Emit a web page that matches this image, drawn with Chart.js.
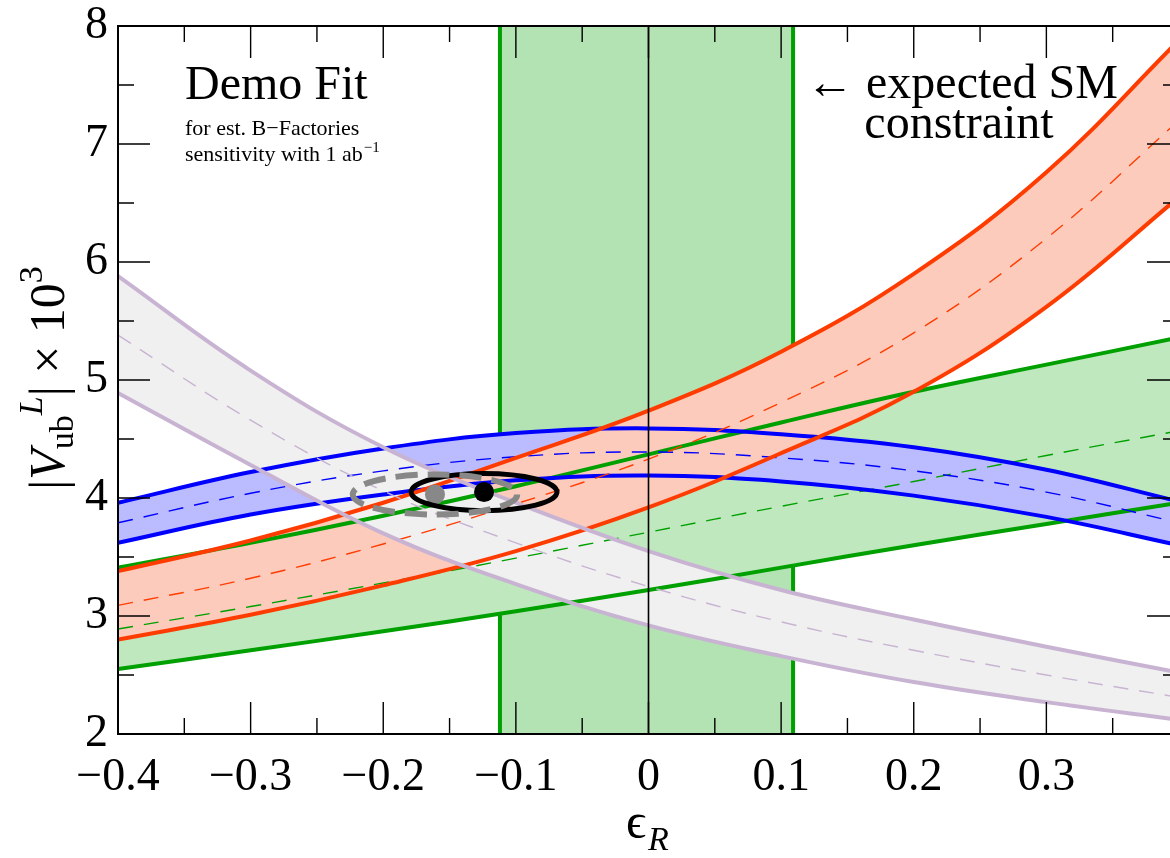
<!DOCTYPE html>
<html>
<head>
<meta charset="utf-8">
<script src="https://cdn.jsdelivr.net/npm/chart.js@4.4.0/dist/chart.umd.min.js"></script>
<style>
html, body { margin:0; padding:0; background:#fff; overflow:hidden; }
#wrap { width:1189px; height:858px; }
</style>
</head>
<body>
<div id="wrap"><canvas id="chart" width="1189" height="858"></canvas></div>
<script>
// epsilon_R grid
const eps = [-0.4, -0.3, -0.2, -0.1, 0, 0.1, 0.2, 0.3, 0.4];

// blue band
const blueUp  = [3.96, 4.22, 4.42, 4.55, 4.59, 4.54, 4.43, 4.24, 3.97];
const blueMid = [3.79, 4.04, 4.23, 4.35, 4.39, 4.34, 4.23, 4.05, 3.79];
const blueLo  = [3.62, 3.86, 4.03, 4.15, 4.19, 4.14, 4.02, 3.84, 3.60];
// red band
const redUp  = [3.38, 3.64, 3.96, 4.34, 4.74, 5.24, 5.90, 6.76, 7.88];
const redMid = [3.09, 3.32, 3.61, 3.95, 4.33, 4.81, 5.40, 6.20, 7.20];
const redLo  = [2.80, 3.01, 3.26, 3.55, 3.92, 4.38, 4.90, 5.62, 6.55];
// green (slanted) band
const greenUp  = [3.41, 3.62, 3.85, 4.10, 4.37, 4.64, 4.90, 5.13, 5.36];
const greenMid = [2.89, 3.08, 3.28, 3.49, 3.71, 3.93, 4.14, 4.36, 4.57];
const greenLo  = [2.55, 2.71, 2.87, 3.04, 3.22, 3.41, 3.60, 3.78, 3.96];
// grey band
const greyUp  = [5.88, 5.08, 4.43, 3.96, 3.55, 3.22, 2.97, 2.74, 2.52];
const greyMid = [5.38, 4.66, 4.06, 3.62, 3.25, 2.95, 2.71, 2.50, 2.31];
const greyLo  = [4.89, 4.28, 3.70, 3.27, 2.92, 2.66, 2.44, 2.27, 2.12];

// expected SM constraint (vertical band edges)
const smBand = [-0.112, 0.109];

// fit results: black = solid, grey = dashed
const fitX  = [-0.124, -0.161];
const fitY  = [4.05, 4.03];
const fitRx = [0.055, 0.062];
const fitRy = [0.157, 0.17];

const xMajor = [-0.4, -0.3, -0.2, -0.1, 0, 0.1, 0.2, 0.3, 0.4];
const xMinor = [-0.35, -0.25, -0.15, -0.05, 0.05, 0.15, 0.25, 0.35];
const yMajor = [2, 3, 4, 5, 6, 7, 8];
const yMinor = [2.5, 3.5, 4.5, 5.5, 6.5, 7.5];

const SERIF = "'Liberation Serif', 'Times New Roman', serif";

const pts = ys => eps.map((x, i) => ({x: x, y: ys[i]}));
const ds = [];
function add(d) { ds.push(d); return ds.length - 1; }
const curve = {tension: 0.4, pointRadius: 0, fill: false};

// vertical SM band
add({data: [{x: smBand[0], y: 8}, {x: smBand[1], y: 8}], fill: 'start', backgroundColor: '#b3e3b3',
     borderWidth: 0, borderColor: 'rgba(0,0,0,0)', pointRadius: 0, order: 100});
smBand.forEach(e => add({data: [{x: e, y: 2}, {x: e, y: 8}], borderColor: '#00a000', borderWidth: 4,
     pointRadius: 0, fill: false, order: 99}));

function band(up, lo, color, order) {
  const lowIdx = add({...curve, data: pts(lo), borderWidth: 0, borderColor: 'rgba(0,0,0,0)', order: order});
  add({...curve, data: pts(up), borderWidth: 0, borderColor: 'rgba(0,0,0,0)',
       fill: {target: lowIdx}, backgroundColor: color, order: order});
}
band(greenUp, greenLo, '#bfe8bf', 90);
band(blueUp, blueLo, '#bbbbff', 80);
band(redUp, redLo, '#fdcbbc', 70);
band(greyUp, greyLo, '#f0f0f0', 60);

function lines(up, mid, lo, color, order) {
  add({...curve, data: pts(up), borderColor: color, borderWidth: 4, order: order});
  add({...curve, data: pts(lo), borderColor: color, borderWidth: 4, order: order});
  add({...curve, data: pts(mid), borderColor: color, borderWidth: 1.4, borderDash: [15, 11], order: order});
}
lines(greenUp, greenMid, greenLo, '#00a000', 54);
lines(blueUp, blueMid, blueLo, '#0000ff', 53);
lines(redUp, redMid, redLo, '#ff3c00', 52);
lines(greyUp, greyMid, greyLo, '#c8b4d2', 51);

// epsilon_R = 0 line
add({data: [{x: 0, y: 2}, {x: 0, y: 8}], borderColor: '#000', borderWidth: 1.6, pointRadius: 0, fill: false, order: 10});
// best-fit points
add({data: fitX.map((x, i) => ({x: x, y: fitY[i]})), showLine: false, pointRadius: 10,
     pointBackgroundColor: ['#000', '#888'], pointBorderWidth: 0, order: 1});

const fmtX = v => {
  if (Math.abs(v - 0.4) < 1e-9) return '';
  if (Math.abs(v) < 1e-9) return '0';
  const s = Math.abs(v).toFixed(1);
  return v < 0 ? '\u2212' + s : s;
};

// fixed axis sizes, no extra label overflow padding
const fixSize = (w, h) => s => {
  if (w !== null) s.width = w;
  if (h !== null) s.height = h;
  s.paddingLeft = 0; s.paddingRight = 0; s.paddingTop = 0; s.paddingBottom = 0;
};

const decor = {
  id: 'decor',
  afterDatasetsDraw(chart) {
    const {ctx, chartArea: a, scales: {x, y}} = chart;
    ctx.save();
    // fit contours
    ctx.beginPath();
    ctx.lineWidth = 5; ctx.strokeStyle = '#000';
    let cx = x.getPixelForValue(fitX[0]), cy = y.getPixelForValue(fitY[0]);
    ctx.ellipse(cx, cy, Math.abs(x.getPixelForValue(fitX[0] + fitRx[0]) - cx),
                Math.abs(y.getPixelForValue(fitY[0] + fitRy[0]) - cy), 0, 0, 2 * Math.PI);
    ctx.stroke();
    ctx.beginPath();
    ctx.lineWidth = 6; ctx.strokeStyle = '#888'; ctx.setLineDash([22, 10]);
    cx = x.getPixelForValue(fitX[1]); cy = y.getPixelForValue(fitY[1]);
    ctx.ellipse(cx, cy, Math.abs(x.getPixelForValue(fitX[1] + fitRx[1]) - cx),
                Math.abs(y.getPixelForValue(fitY[1] + fitRy[1]) - cy), 0, 0, 2 * Math.PI);
    ctx.stroke();
    ctx.setLineDash([]);

    // frame and inward ticks
    ctx.strokeStyle = '#000';
    ctx.lineWidth = 1.4;
    ctx.beginPath();
    const tx = (v, len) => { const p = x.getPixelForValue(v);
      ctx.moveTo(p, a.bottom); ctx.lineTo(p, a.bottom - len);
      ctx.moveTo(p, a.top); ctx.lineTo(p, a.top + len); };
    const ty = (v, len) => { const p = y.getPixelForValue(v);
      ctx.moveTo(a.left, p); ctx.lineTo(a.left + len, p);
      ctx.moveTo(a.right, p); ctx.lineTo(a.right - len, p); };
    xMajor.forEach(v => tx(v, 32)); xMinor.forEach(v => tx(v, 16));
    yMajor.forEach(v => ty(v, 32)); yMinor.forEach(v => ty(v, 16));
    ctx.stroke();
    ctx.lineWidth = 2;
    ctx.strokeRect(a.left, a.top, a.right - a.left, a.bottom - a.top);
    ctx.restore();
  },
  afterDraw(chart) {
    const ctx = chart.ctx;
    ctx.save();
    ctx.fillStyle = '#000';
    ctx.textBaseline = 'alphabetic';
    ctx.textAlign = 'left';
    ctx.font = '48px ' + SERIF;
    ctx.fillText('Demo Fit', 185, 99);
    ctx.font = '22px ' + SERIF;
    ctx.fillText('for est. B\u2212Factories', 185, 135);
    ctx.fillText('sensitivity with 1 ab', 185, 161);
    const w = ctx.measureText('sensitivity with 1 ab').width;
    ctx.font = '15px ' + SERIF;
    ctx.fillText('\u22121', 185 + w + 1, 152);

    ctx.textAlign = 'center';
    ctx.font = '48px ' + SERIF;
    ctx.fillText('\u2190 expected SM', 962, 98);
    ctx.fillText('constraint', 959, 138);

    // x title
    ctx.textAlign = 'left';
    ctx.font = '50px ' + SERIF;
    ctx.fillText('\u03f5', 626, 838);
    ctx.font = 'italic 34px ' + SERIF;
    ctx.fillText('R', 648, 850);

    // y title
    const parts = [
      {t: '|', f: '50px ' + SERIF, dy: 0},
      {t: 'V', f: 'italic 50px ' + SERIF, dy: 0},
      {t: 'ub', f: '34px ' + SERIF, dy: 9},
      {t: 'L', f: 'italic 34px ' + SERIF, dy: -22},
      {t: '| \u00d7 10', f: '50px ' + SERIF, dy: 0},
      {t: '3', f: '34px ' + SERIF, dy: -22}
    ];
    let total = 0;
    parts.forEach(p => { ctx.font = p.f; p.w = ctx.measureText(p.t).width; total += p.w; });
    ctx.translate(64, 378);
    ctx.rotate(-Math.PI / 2);
    let u = -total / 2;
    parts.forEach(p => { ctx.font = p.f; ctx.fillText(p.t, u, p.dy); u += p.w; });
    ctx.restore();
  }
};

new Chart(document.getElementById('chart'), {
  type: 'line',
  data: {datasets: ds},
  options: {
    responsive: false,
    animation: false,
    devicePixelRatio: 1,
    layout: {padding: 0},
    plugins: {legend: {display: false}, tooltip: {enabled: false}},
    elements: {point: {radius: 0}},
    scales: {
      x: {
        type: 'linear', position: 'bottom', min: -0.4, max: 0.4,
        afterFit: fixSize(null, 124),
        grid: {display: false, drawTicks: false},
        border: {display: true, color: '#000', width: 2},
        ticks: {stepSize: 0.1, padding: 16, color: '#000', font: {family: SERIF, size: 46},
                maxRotation: 0, autoSkip: false, callback: fmtX}
      },
      x2: {
        type: 'linear', position: 'top', min: -0.4, max: 0.4,
        afterFit: fixSize(null, 26),
        grid: {display: false, drawTicks: false},
        border: {display: true, color: '#000', width: 2},
        ticks: {display: false}
      },
      y: {
        type: 'linear', position: 'left', min: 2, max: 8,
        afterFit: fixSize(118, null),
        grid: {display: false, drawTicks: false},
        border: {display: true, color: '#000', width: 2},
        ticks: {stepSize: 1, padding: 10, color: '#000', font: {family: SERIF, size: 46}}
      },
      y2: {
        type: 'linear', position: 'right', min: 2, max: 8,
        afterFit: fixSize(3, null),
        grid: {display: false, drawTicks: false},
        border: {display: true, color: '#000', width: 2},
        ticks: {display: false}
      }
    }
  },
  plugins: [decor]
});
</script>
</body>
</html>
